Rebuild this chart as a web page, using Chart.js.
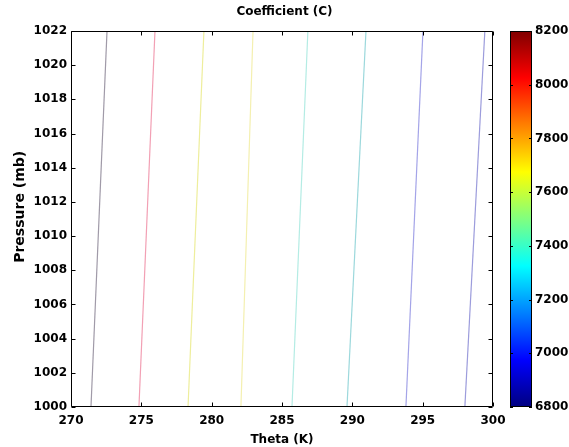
<!DOCTYPE html>
<html>
<head>
<meta charset="utf-8">
<script src="https://cdn.jsdelivr.net/npm/chart.js@4"></script>
<style>
  html, body { margin: 0; padding: 0; background: #fff; }
  #wrap { width: 569px; height: 447px; }
</style>
</head>
<body>
<div id="wrap"><canvas id="c" width="569" height="447"></canvas></div>
<script>
// ---- data ----
const pressureLevels = [1000, 1022];            // mb, ends of each contour
const contourLevels = [8150, 8000, 7800, 7650, 7450, 7250, 7000, 6850]; // C value of each contour
const thetaAt1000 = [271.42, 274.83, 278.32, 282.08, 285.71, 289.62, 293.81, 298.00];
const thetaAt1022 = [272.56, 275.97, 279.45, 282.94, 286.84, 290.97, 295.02, 299.42];
const xTicks = [270, 275, 280, 285, 290, 295, 300];
const yTicks = [1000, 1002, 1004, 1006, 1008, 1010, 1012, 1014, 1016, 1018, 1020, 1022];
const cbarTicks = [6800, 7000, 7200, 7400, 7600, 7800, 8000, 8200];

// ---- styles ----
const lineColors = ['#a09aa8', '#f2a0b4', '#eeee9c', '#f4f0b0', '#b4ece4', '#9cd8dc', '#a4a4e8', '#9c9cdc'];
const FONT = '"DejaVu Sans", Verdana, sans-serif';

function jet(t) {
  const r = Math.min(Math.max(Math.min(4 * t - 1.5, -4 * t + 4.5), 0), 1);
  const g = Math.min(Math.max(Math.min(4 * t - 0.5, -4 * t + 3.5), 0), 1);
  const b = Math.min(Math.max(Math.min(4 * t + 0.5, -4 * t + 2.5), 0), 1);
  return 'rgb(' + Math.round(r * 255) + ',' + Math.round(g * 255) + ',' + Math.round(b * 255) + ')';
}

const datasets = contourLevels.map((lev, i) => ({
  label: 'C = ' + lev,
  data: [
    { x: thetaAt1000[i], y: pressureLevels[0] },
    { x: thetaAt1022[i], y: pressureLevels[1] }
  ],
  showLine: true,
  borderColor: lineColors[i],
  borderWidth: 1.2,
  pointRadius: 0,
  fill: false,
  tension: 0
}));

function noPad(s) {
  s.paddingTop = 0; s.paddingBottom = 0; s.paddingLeft = 0; s.paddingRight = 0;
}

const boxPlugin = {
  id: 'boxPlugin',
  afterDatasetsDraw(chart) {
    const { ctx, chartArea: a, scales } = chart;
    ctx.save();
    ctx.strokeStyle = '#000';
    ctx.lineWidth = 1;
    const L = Math.round(a.left) + 0.5, R = Math.round(a.right) - 0.5;
    const T = Math.round(a.top) + 0.5, B = Math.round(a.bottom) - 0.5;
    ctx.beginPath();
    ctx.rect(L, T, R - L, B - T);
    ctx.stroke();
    const tl = 4;
    ctx.beginPath();
    xTicks.forEach(v => {
      const px = Math.round(scales.x.getPixelForValue(v)) + 0.5;
      ctx.moveTo(px, B); ctx.lineTo(px, B - tl);
      ctx.moveTo(px, T); ctx.lineTo(px, T + tl);
    });
    yTicks.forEach(v => {
      const py = Math.round(scales.y.getPixelForValue(v)) + 0.5;
      ctx.moveTo(L, py); ctx.lineTo(L + tl, py);
      ctx.moveTo(R, py); ctx.lineTo(R - tl, py);
    });
    ctx.stroke();

    // colorbar
    const cb = scales.cbar;
    const x0 = Math.round(cb.left) + 17, w = 22;
    const top = cb.getPixelForValue(cbarTicks[cbarTicks.length - 1]);
    const bot = cb.getPixelForValue(cbarTicks[0]);
    const grad = ctx.createLinearGradient(0, bot, 0, top);
    for (let k = 0; k <= 64; k++) grad.addColorStop(k / 64, jet(k / 64));
    ctx.fillStyle = grad;
    ctx.fillRect(x0, top, w, bot - top);
    ctx.beginPath();
    ctx.rect(x0 + 0.5, Math.round(top) + 0.5, w - 1, Math.round(bot - top) - 1);
    ctx.stroke();
    ctx.beginPath();
    cbarTicks.forEach(v => {
      const py = Math.round(cb.getPixelForValue(v)) + 0.5;
      ctx.moveTo(x0, py); ctx.lineTo(x0 + 3, py);
      ctx.moveTo(x0 + w, py); ctx.lineTo(x0 + w - 3, py);
    });
    ctx.stroke();
    ctx.restore();
  }
};

const tickFont = { family: FONT, size: 12, weight: 'bold' };
const plain = v => String(v);

new Chart(document.getElementById('c'), {
  type: 'scatter',
  data: { datasets },
  options: {
    responsive: false,
    animation: false,
    devicePixelRatio: 1,
    layout: { padding: 0 },
    plugins: {
      legend: { display: false },
      tooltip: { enabled: false },
      title: {
        display: true,
        text: 'Coefficient (C)',
        color: '#000',
        font: { family: FONT, size: 12, weight: 'bold', lineHeight: 1.2 },
        padding: { top: 5, bottom: 11.6 }
      }
    },
    scales: {
      x: {
        type: 'linear',
        min: 270, max: 300,
        afterFit: s => { s.height = 40; noPad(s); },
        afterBuildTicks: s => { s.ticks = xTicks.map(v => ({ value: v })); },
        ticks: { font: tickFont, color: '#000', padding: 7, autoSkip: false, maxRotation: 0, callback: plain },
        grid: { display: false, drawTicks: false },
        border: { display: false },
        title: { display: true, text: 'Theta (K)', color: '#000', font: tickFont, padding: { top: 3, bottom: 0 } }
      },
      y: {
        type: 'linear',
        min: 1000, max: 1022,
        afterFit: s => { s.width = 71; noPad(s); },
        afterBuildTicks: s => { s.ticks = yTicks.map(v => ({ value: v })); },
        ticks: { font: tickFont, color: '#000', padding: 4, autoSkip: false, callback: plain },
        grid: { display: false, drawTicks: false },
        border: { display: false },
        title: {
          display: true,
          text: '\u00a0\u00a0\u00a0\u00a0\u00a0Pressure (mb)',
          color: '#000',
          font: { family: FONT, size: 14, weight: 'bold' },
          padding: { top: 12, bottom: 0 }
        }
      },
      cbar: {
        type: 'linear',
        position: 'right',
        min: 6800, max: 8200,
        afterFit: s => { s.width = 76; noPad(s); },
        afterBuildTicks: s => { s.ticks = cbarTicks.map(v => ({ value: v })); },
        ticks: { font: tickFont, color: '#000', padding: 42, autoSkip: false, callback: plain },
        grid: { display: false, drawTicks: false },
        border: { display: false }
      }
    }
  },
  plugins: [boxPlugin]
});
</script>
</body>
</html>
